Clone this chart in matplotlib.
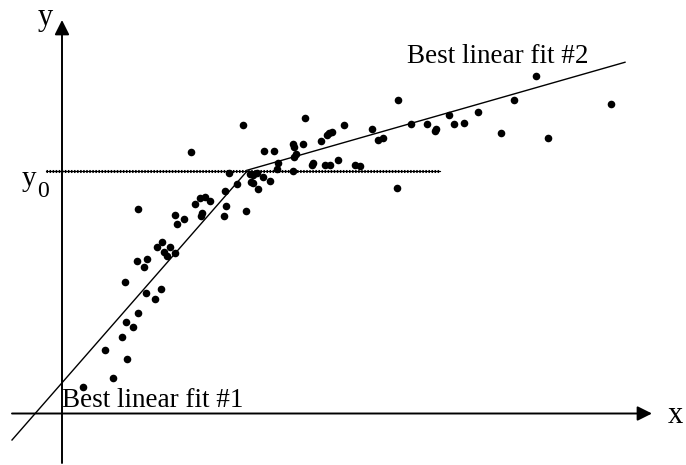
import numpy as np
import matplotlib
matplotlib.use("Agg")
import matplotlib.pyplot as plt

plt.rcParams['font.family'] = ['Liberation Serif', 'DejaVu Serif']

# measured samples (x, y)
x_pts = [2.07, 5.07, 6.5, 4.33, 6.0, 7.07, 6.37, 7.6, 8.43, 9.27, 9.87, 6.27,
         7.53, 8.53, 8.17, 9.47, 10.03, 10.2, 10.53, 10.8, 11.3, 12.87, 7.6,
         16.67, 17.47, 16.33, 13.77, 14.3, 14.77, 13.3, 16.4, 16.23, 18.4,
         13.97, 13.87, 11.3, 12.23, 11.53, 18.8, 18.93, 19.13, 19.47, 19.63,
         19.1, 18.07, 24.3, 28.17, 31.03, 31.63, 20.2, 21.2, 23.13, 23.2,
         24.1, 25.9, 26.47, 26.7, 26.97, 23.4, 23.2, 21.57, 21.47, 23.13,
         25.13, 25.0, 26.3, 26.8, 27.57, 29.3, 29.8, 20.07, 20.83, 32.1,
         33.6, 33.47, 34.87, 36.53, 37.27, 37.4, 38.67, 39.23, 40.23, 41.6,
         43.87, 45.2, 47.4, 48.57, 54.9]
y_pts = [2.68, 3.55, 5.48, 6.38, 7.62, 8.62, 9.15, 10.08, 12.02, 11.42, 12.45,
         13.15, 15.25, 15.45, 14.68, 16.62, 17.18, 16.18, 15.78, 16.62, 16.08,
         26.18, 20.42, 24.05, 22.92, 22.22, 21.58, 21.68, 21.25, 20.92, 20.75,
         19.72, 20.25, 20.08, 19.72, 19.85, 19.42, 18.92, 23.92, 23.18, 23.02,
         24.08, 22.45, 23.85, 28.82, 29.55, 28.82, 28.42, 27.35, 26.28, 26.28,
         26.92, 26.68, 26.98, 27.28, 27.88, 28.02, 28.15, 25.92, 25.68, 25.02,
         24.48, 24.22, 25.08, 24.88, 24.82, 24.85, 25.38, 24.82, 24.75, 23.65,
         23.25, 27.55, 31.32, 22.52, 28.98, 28.92, 28.25, 28.42, 29.82, 28.98,
         29.05, 30.15, 28.05, 31.32, 33.75, 27.55, 30.92]

# the two straight-line fits and their x ranges
fit1_slope, fit1_icpt = 1.144, 3.07
fit2_slope, fit2_icpt = 0.2857, 19.04
fit1_range = [-5.0, 18.49]
fit2_range = [18.49, 56.3]

y0 = 24.22
y0_range = [-1.6, 37.8]

fig = plt.figure(figsize=(6.86, 4.65), dpi=100)
ax = fig.add_axes([0, 0, 1, 1])
ax.set_xlim(-6.2, 62.4)
ax.set_ylim(-5.15, 41.35)
ax.axis('off')

# axes with arrows
arrow = dict(arrowstyle='-|>', lw=1.4, color='black', mutation_scale=22,
             shrinkA=0, shrinkB=0)
ax.annotate('', xy=(0, 39.35), xytext=(0, -4.95), arrowprops=arrow)
ax.annotate('', xy=(59.0, 0), xytext=(-5.0, 0), arrowprops=arrow)

# y0 reference line
ax.plot(y0_range, [y0, y0], color='black', lw=0.8)
ax.plot(y0_range, [y0, y0], color='black', lw=2.2, linestyle=(0, (0.5, 0.5)))

# fits
xs1 = np.array(fit1_range)
xs2 = np.array(fit2_range)
ax.plot(xs1, fit1_slope * xs1 + fit1_icpt, color='black', lw=1.0)
ax.plot(xs2, fit2_slope * xs2 + fit2_icpt, color='black', lw=1.0)

ax.scatter(x_pts, y_pts, s=30, color='black', zorder=3, linewidths=0)

# labels
ax.text(-1.7, 38.8, 'y', fontsize=22, ha='center', va='baseline')
ax.text(61.35, -0.95, 'x', fontsize=22, ha='center', va='baseline')
ax.text(-4.0, 22.75, 'y', fontsize=21, ha='left', va='baseline')
ax.text(-2.5, 21.65, '0', fontsize=17, ha='left', va='baseline')
ax.text(34.5, 35.08, 'Best linear fit #2', fontsize=19.5, ha='left', va='baseline')
ax.text(0.0, 0.68, 'Best linear fit #1', fontsize=19.5, ha='left', va='baseline')

fig.savefig('out.png', dpi=100)
